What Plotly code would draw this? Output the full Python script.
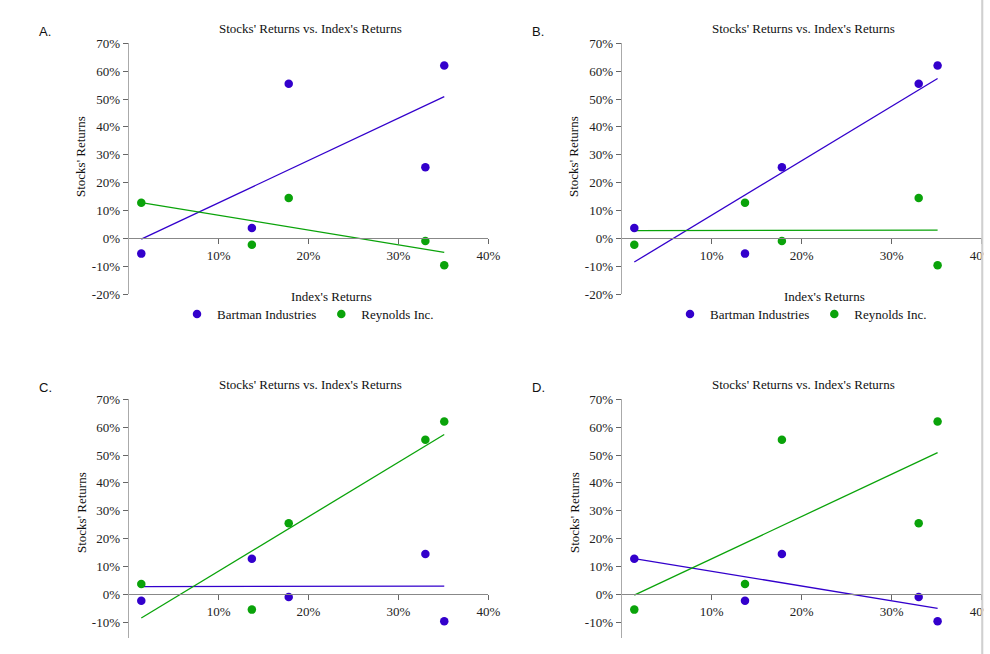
import numpy as np
import plotly.graph_objects as go

# ---------------- data ----------------
index_returns = [1.4, 13.7, 17.8, 33.0, 35.1]

bartman_a = [-5.5, 3.7, 55.5, 25.5, 62.0]
reynolds_a = [12.8, -2.3, 14.5, -1.0, -9.7]

bartman_b = [3.7, -5.5, 25.5, 55.5, 62.0]
reynolds_b = [-2.3, 12.8, -1.0, 14.5, -9.7]

bartman_c = [-2.3, 12.8, -1.0, 14.5, -9.7]
reynolds_c = [3.7, -5.5, 25.5, 55.5, 62.0]

bartman_d = [12.8, -2.3, 14.5, -1.0, -9.7]
reynolds_d = [-5.5, 3.7, 55.5, 25.5, 62.0]

panel_labels = ["A.", "B.", "C.", "D."]
x_ticks = [10, 20, 30, 40]
y_ticks = [-20, -10, 0, 10, 20, 30, 40, 50, 60, 70]
chart_title = "Stocks' Returns vs. Index's Returns"
x_title = "Index's Returns"
y_title = "Stocks' Returns"
series_names = ["Bartman Industries", "Reynolds Inc."]

# ---------------- styling ----------------
W, H = 990, 654
BLUE = "#3300cc"
GREEN = "#0aa30a"
SERIF = "Liberation Serif"
SANS = "Liberation Sans"


def px(x):
    return x / W


def py(y):
    return 1 - y / H


panels = [
    dict(x0=128.7, x1=488.3, ytop=43.3, ybot=294.0, yzero=238.3, dy=0),
    dict(x0=621.7, x1=981.7, ytop=43.3, ybot=294.0, yzero=238.3, dy=0),
    dict(x0=128.7, x1=488.3, ytop=399.3, ybot=638.3, yzero=594.3, dy=356),
    dict(x0=621.7, x1=981.7, ytop=399.3, ybot=638.3, yzero=594.3, dy=356),
]
data_sets = [
    (bartman_a, reynolds_a),
    (bartman_b, reynolds_b),
    (bartman_c, reynolds_c),
    (bartman_d, reynolds_d),
]

fig = go.Figure()
layout = dict(
    width=W, height=H, autosize=False,
    margin=dict(l=0, r=0, t=0, b=0),
    paper_bgcolor="white", plot_bgcolor="white",
    font=dict(family=SERIF, size=13, color="#222"),
    showlegend=True,
)
annotations = []
shapes = []

for i, (p, (bart, reyn)) in enumerate(zip(panels, data_sets)):
    n = "" if i == 0 else str(i + 1)
    xa, ya = "x" + n, "y" + n
    per10 = (p["yzero"] - p["ytop"]) / 7.0
    ymin = -(p["ybot"] - p["yzero"]) / per10 * 10
    legend_id = "legend" if i == 0 else "legend" + str(i + 1)
    show_leg = i < 2

    for vals, color in ((bart, BLUE), (reyn, GREEN)):
        slope, icpt = np.polyfit(index_returns, vals, 1)
        xs = [min(index_returns), max(index_returns)]
        fig.add_trace(go.Scatter(
            x=xs, y=[icpt + slope * v for v in xs], mode="lines",
            line=dict(color=color, width=1.3), xaxis=xa, yaxis=ya,
            showlegend=False, hoverinfo="skip"))
    for vals, color, name in ((bart, BLUE, series_names[0]), (reyn, GREEN, series_names[1])):
        fig.add_trace(go.Scatter(
            x=index_returns, y=vals, mode="markers", name=name,
            marker=dict(color=color, size=8.5), xaxis=xa, yaxis=ya,
            showlegend=show_leg, legend=legend_id))

    yt = [v for v in y_ticks if v >= ymin - 0.01]
    layout["xaxis" + n] = dict(
        domain=[px(p["x0"]), px(p["x1"])], range=[0, 40],
        anchor="free", position=py(p["yzero"]),
        tickmode="array", tickvals=x_ticks, ticktext=[f"{v}%" for v in x_ticks],
        ticks="outside", ticklen=5, ticklabeloverflow="allow",
        tickcolor="#666", showline=True, linecolor="#888", linewidth=1,
        showgrid=False, zeroline=False, fixedrange=True, automargin=False,
        tickfont=dict(family=SERIF, size=13, color="#222"),
    )
    layout["yaxis" + n] = dict(
        domain=[py(p["ybot"]), py(p["ytop"])], range=[ymin, 70],
        anchor=xa, tickmode="array", tickvals=yt,
        ticktext=[f"{v}%" for v in yt], ticks="outside",
        ticklen=5, tickcolor="#666", showline=True, linecolor="#aaa",
        linewidth=1.2, showgrid=False, zeroline=False, fixedrange=True,
        automargin=False,
        tickfont=dict(family=SERIF, size=13, color="#222"),
    )

    dxp = p["x0"] - 128.7
    dyp = p["dy"]
    annotations += [
        dict(text=chart_title, x=px(310 + dxp), y=py(28 + dyp), xref="paper",
             yref="paper", xanchor="center", yanchor="middle", showarrow=False,
             font=dict(family=SERIF, size=13, color="#111")),
        dict(text=y_title, x=px(81 + dxp), y=py(157 + dyp), xref="paper",
             yref="paper", xanchor="center", yanchor="middle", showarrow=False,
             textangle=-90, font=dict(family=SERIF, size=13, color="#111")),
        dict(text=panel_labels[i], x=px(37 + dxp), y=py(31 + dyp),
             xref="paper", yref="paper", xanchor="left", yanchor="middle",
             showarrow=False, font=dict(family=SANS, size=13, color="#111")),
    ]
    if i < 2:
        annotations.append(
            dict(text=x_title, x=px(331 + dxp), y=py(296 + dyp), xref="paper",
                 yref="paper", xanchor="center", yanchor="middle",
                 showarrow=False, font=dict(family=SERIF, size=13, color="#111")))
        layout[legend_id] = dict(
            x=px(308 + dxp), y=py(314 + dyp), xanchor="center",
            yanchor="middle", orientation="h", bgcolor="rgba(0,0,0,0)",
            font=dict(family=SERIF, size=13, color="#111"),
            itemwidth=30, tracegroupgap=0,
        )

# right-hand border of the screenshot
shapes += [
    dict(type="rect", xref="paper", yref="paper", x0=px(983.3), x1=1.0,
         y0=0, y1=1, fillcolor="white", line=dict(width=0), layer="above"),
    dict(type="rect", xref="paper", yref="paper", x0=px(981.2), x1=px(983.3),
         y0=0, y1=1, fillcolor="#d0d0d0", line=dict(width=0), layer="above"),
]

layout["annotations"] = annotations
layout["shapes"] = shapes
fig.update_layout(**layout)
fig.write_html("out.html", config={"displayModeBar": False},
               post_script="document.body.style.margin='0px';")
